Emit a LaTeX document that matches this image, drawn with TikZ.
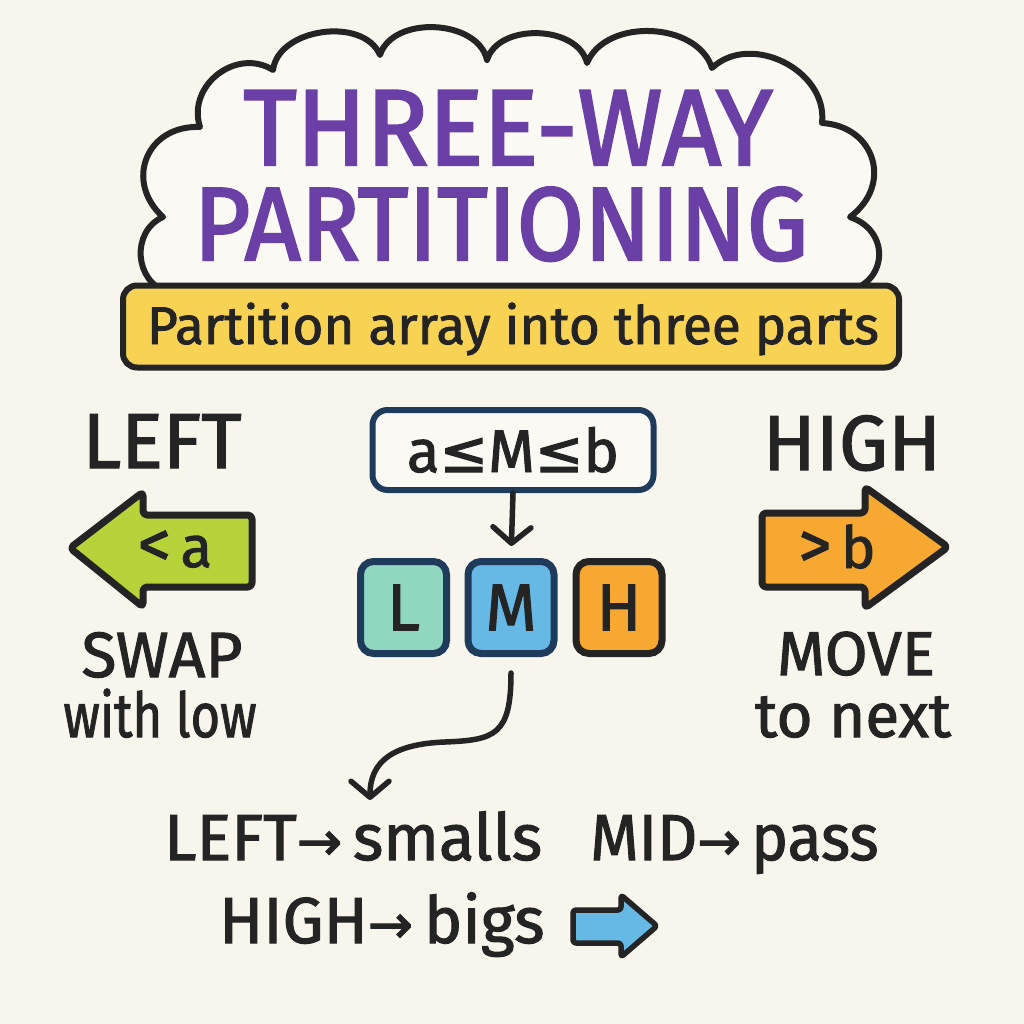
\documentclass[tikz,border=0pt]{standalone}
\usepackage{fontspec}
\setmainfont{Fira Sans}[FakeBold=1.6]
\newfontfamily\titlefont{Fira Sans}[FakeBold=2.2]
\newfontfamily\symfont{DejaVu Sans}[FakeBold=2]
\usetikzlibrary{arrows.meta,calc}
\definecolor{bg}{HTML}{F8F5EC}
\definecolor{ink}{HTML}{242424}
\definecolor{titlepurple}{HTML}{6A3FA6}
\definecolor{baryellow}{HTML}{F7D253}
\definecolor{argreen}{HTML}{B6D33A}
\definecolor{mint}{HTML}{8FD7BF}
\definecolor{skyblue}{HTML}{66B8E5}
\definecolor{orangeh}{HTML}{F6A831}
\definecolor{navy}{HTML}{1F3B5C}
\newcommand{\fs}[1]{\fontsize{#1}{#1}\selectfont}
\newcommand{\xs}[2]{\scalebox{#1}[1]{#2}}
\begin{document}
\begin{tikzpicture}[x=1pt,y=-1pt,
  txt/.style={text=ink, inner sep=0pt, anchor=base},
  shapeline/.style={draw=ink, line width=7pt, line join=round, rounded corners=4pt},
  cell/.style={draw=navy, line width=7pt, rounded corners=13pt, minimum width=86pt, minimum height=92pt, inner sep=0pt, text=ink, font=\fs{66}},
  conn/.style={draw=ink, line width=5.5pt, line cap=round, -{Straight Barb[length=16pt,width=38pt,line width=5.5pt,line cap=round,line join=round]}}
]
\fill[bg] (0,0) rectangle (1024,1024);
\useasboundingbox (0,0) rectangle (1024,1024);

% cloud
\draw[ink, line width=6pt, line join=round, fill=bg!60!white]
  (168,292) to[bend left=70, looseness=1.2] (163,217)
  to[bend left=70, looseness=1.4] (200,127)
  to[bend left=70, looseness=1.2] (273,70)
  to[bend left=75] (380,55)
  to[bend left=75] (487,60)
  to[bend left=75] (587,63)
  to[bend left=70] (712,68)
  to[bend left=70, looseness=1.1] (822,123)
  to[bend left=70, looseness=1.4] (850,217)
  to[bend left=80, looseness=1.6] (838,292) -- cycle;

\node[txt, text=titlepurple, font=\titlefont\fs{108}] (t1) at (508,165) {\xs{0.95}{THREE-WAY}};
\node[txt, text=titlepurple, font=\titlefont\fs{104}] (t2) at (501,260) {\xs{0.94}{PARTITIONING}};

% subtitle bar
\node[draw=ink, fill=baryellow, line width=6pt, rounded corners=14pt,
      minimum width=776pt, minimum height=82pt, inner sep=0pt] (bar) at (511,326.5) {};
\node[txt, font=\fs{53}] (sub) at (513,344) {Partition array into three parts};

% left side
\node[txt, font=\fs{78}] (left) at (162,468) {LEFT};
\draw[shapeline, fill=argreen] (252,515) -- (143,515) -- (143,492) -- (70,548) -- (143,607) -- (143,587) -- (252,587) -- cycle;
\node[txt, font=\fs{58}] (lt) at (175,567) {{\fs{66}<}\,a};
\node[txt, font=\fs{64}] (swap) at (162,677) {SWAP};
\node[txt, font=\fs{62}] (wlow) at (160,737) {\xs{0.82}{with low}};

% right side
\node[txt, font=\fs{78}] (high) at (852,470) {HIGH};
\draw[shapeline, fill=orangeh] (762,513) -- (865,513) -- (865,487) -- (948,547) -- (865,608) -- (865,587) -- (762,587) -- cycle;
\node[txt, font=\fs{58}] (gt) at (837,568) {{\fs{66}>}\,b};
\node[txt, font=\fs{62}] (move) at (856,675) {MOVE};
\node[txt, font=\fs{62}] (next) at (853,737) {to next};

% middle
\node[draw=navy, line width=6pt, rounded corners=15pt, fill=bg!60!white,
      minimum width=281pt, minimum height=80pt, inner sep=0pt] (cond) at (513,450) {};
\node[txt, font=\fs{60}] (condt) at (513,472) {a{\symfont\fs{58}≤}M{\symfont\fs{58}≤}b};
\node[cell, fill=mint] (L) at (403.5,607.5) {L};
\node[cell, fill=skyblue] (M) at (511,607.5) {M};
\node[cell, fill=orangeh, draw=ink] (H) at (619,607.5) {H};
\draw[conn, shorten >=12pt] (cond.south) -- (M.north);

\coordinate (bend) at (445,742);
\coordinate (tipc) at (370,800);
\draw[conn] ([yshift=-16pt]M.south) .. controls +(0,62) and (495,740) .. (bend)
  .. controls (392,744) and (370,762) .. (tipc);

% bottom summary
\node[txt, font=\fs{65}, anchor=base west] (r1) at (164,860) {LEFT{\symfont\fs{54}→}\,smalls};
\node[txt, font=\fs{65}, anchor=base west] (r2) at (590,860) {\xs{0.96}{MID{\symfont\fs{54}→}\,pass}};
\node[txt, font=\fs{65}, anchor=base west] (r3) at (219,943) {HIGH{\symfont\fs{54}→}\,bigs};
\draw[draw=ink, line width=5.5pt, line join=round, rounded corners=3pt, fill=skyblue]
  (573,910) -- (621,910) -- (621,895) -- (657,926) -- (621,957) -- (621,943) -- (573,943) -- cycle;
\end{tikzpicture}
\end{document}
